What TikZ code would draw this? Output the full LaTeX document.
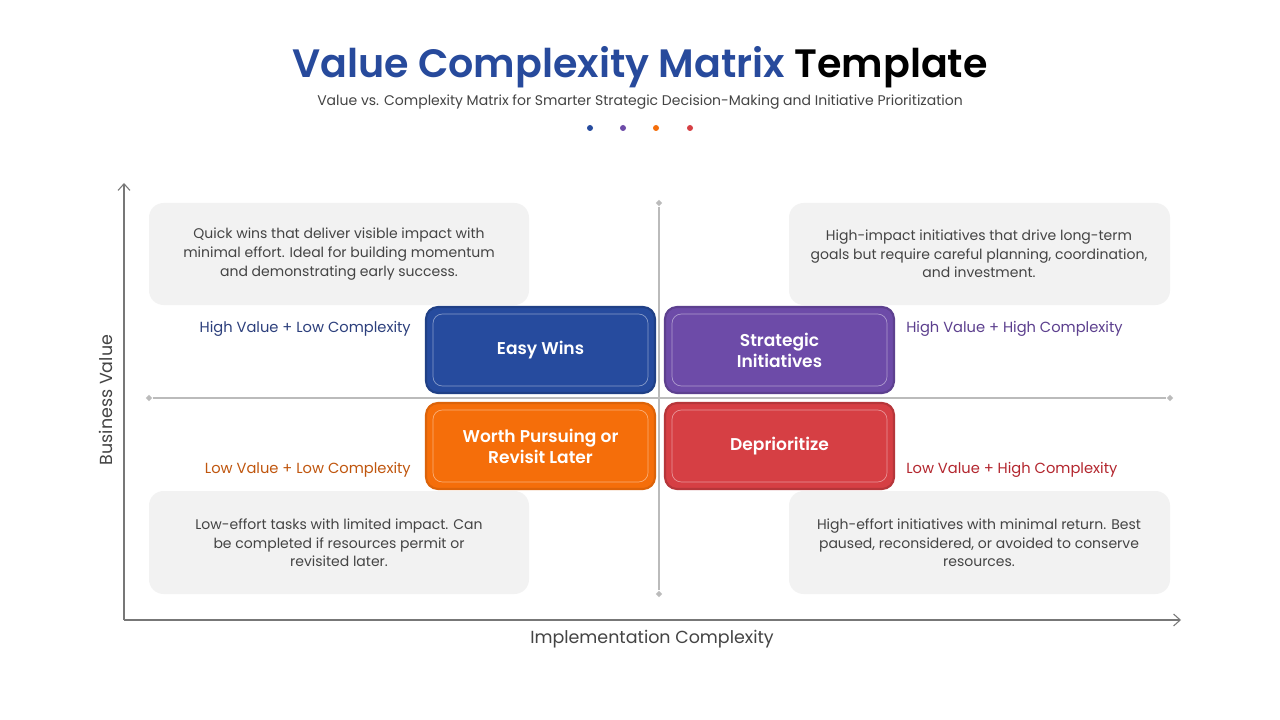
\documentclass[tikz,border=0pt]{standalone}
\usepackage{fontspec}
\setmainfont{Poppins}
\newfontfamily\semi{Poppins SemiBold}
\usetikzlibrary{arrows.meta,shapes.geometric}
\definecolor{tblue}{HTML}{274A9C}
\definecolor{cblue}{HTML}{264B9E}
\definecolor{cpurple}{HTML}{6D4BA8}
\definecolor{corange}{HTML}{F56E0A}
\definecolor{cred}{HTML}{D63F44}
\definecolor{lblue}{HTML}{2C3F7C}
\definecolor{lpurple}{HTML}{5C3F8E}
\definecolor{lorange}{HTML}{C0560E}
\definecolor{lred}{HTML}{B3262E}
\definecolor{txt}{HTML}{444444}
\definecolor{boxgray}{HTML}{F2F2F2}
\definecolor{axisgray}{HTML}{777777}
\definecolor{linegray}{HTML}{BBBBBB}
\tikzset{
  descbox/.style={fill=boxgray,rounded corners=11pt,draw=none},
  desctext/.style={text=txt,font=\fontsize{10.5}{14}\selectfont,align=center},
  quad/.style={rounded corners=9pt,line width=1.6pt},
  quadin/.style={draw=white,draw opacity=0.45,line width=0.5pt,rounded corners=7pt},
  quadtext/.style={text=white,font=\semi\fontsize{12.8}{15.8}\selectfont,align=center},
  tag/.style={font=\fontsize{11}{13}\selectfont,inner xsep=0pt},
  dotm/.style={circle,inner sep=0pt,minimum size=4.5pt},
  endmark/.style={diamond,fill=linegray,inner sep=0pt,minimum size=5pt}
}
\begin{document}
\begin{tikzpicture}[x=0.75pt,y=-0.75pt]
\useasboundingbox (0,0) rectangle (1280,720);
\fill[white] (0,0) rectangle (1280,720);
% title
\node (title) at (640,67) {\semi\fontsize{29.7}{34}\selectfont\textcolor{tblue}{Value Complexity Matrix} Template};
\node[text=txt] (sub) at (640,102.5) {\fontsize{10.5}{12}\selectfont Value vs. Complexity Matrix for Smarter Strategic Decision-Making and Initiative Prioritization};
\node[dotm,fill=cblue] (d1) at (590,128) {};
\node[dotm,fill=cpurple] (d2) at (623,128) {};
\node[dotm,fill=corange] (d3) at (656,128) {};
\node[dotm,fill=cred] (d4) at (690,128) {};
% axes
\coordinate (o) at (124,620);
\coordinate (ytop) at (124,183);
\coordinate (xend) at (1181,620);
\draw[axisgray,line width=0.8pt,-{Straight Barb[length=5pt,width=9pt]}] (o) -- (ytop);
\draw[axisgray,line width=0.8pt,-{Straight Barb[length=5pt,width=9pt]}] (o) -- (xend);
\node[text=txt,font=\fontsize{13.1}{15}\selectfont] (xl) at (652,639.5) {Implementation Complexity};
\node[text=txt,font=\fontsize{13.1}{15}\selectfont,rotate=90] (yl) at (106,400) {Business Value};
% crosshair
\node[endmark] (vt) at (659,203) {};
\node[endmark] (vb) at (659,594) {};
\node[endmark] (hl) at (149,398) {};
\node[endmark] (hr) at (1170,398) {};
\draw[linegray,line width=0.8pt] (vt) -- (vb);
\draw[linegray,line width=0.8pt] (hl) -- (hr);
% description boxes
\fill[descbox] (149,203) rectangle (529,305);
\fill[descbox] (789,203) rectangle (1170,305);
\fill[descbox] (149,491) rectangle (529,594);
\fill[descbox] (789,491) rectangle (1170,594);
\node[desctext] (t1) at (339,254) {Quick wins that deliver visible impact with\\minimal effort. Ideal for building momentum\\and demonstrating early success.};
\node[desctext] (t2) at (979,254) {High-impact initiatives that drive long-term\\goals but require careful planning, coordination,\\and investment.};
\node[desctext] (t3) at (339,543) {Low-effort tasks with limited impact. Can\\be completed if resources permit or\\revisited later.};
\node[desctext] (t4) at (979,543) {High-effort initiatives with minimal return. Best\\paused, reconsidered, or avoided to conserve\\resources.};
% quadrant boxes
\filldraw[quad,fill=cblue,draw=cblue!85!black] (426,307) rectangle (655,393);
\draw[quadin] (433,314) rectangle (648,386);
\node[quadtext] (q1) at (540.5,350.5) {Easy Wins};
\filldraw[quad,fill=cpurple,draw=cpurple!85!black] (665,307) rectangle (894,393);
\draw[quadin] (672,314) rectangle (887,386);
\node[quadtext] (q2) at (779.5,350) {Strategic\\Initiatives};
\filldraw[quad,fill=corange,draw=corange!90!black] (426,403) rectangle (655,489);
\draw[quadin] (433,410) rectangle (648,482);
\node[quadtext] (q3) at (540.5,446) {Worth Pursuing or\\Revisit Later};
\filldraw[quad,fill=cred,draw=cred!85!black] (665,403) rectangle (894,489);
\draw[quadin] (672,410) rectangle (887,482);
\node[quadtext] (q4) at (779.5,446.5) {Deprioritize};
% tags
\node[tag,text=lblue,anchor=east] (g1) at (411,328.5) {High Value + Low Complexity};
\node[tag,text=lpurple,anchor=west] (g2) at (906,328.5) {High Value + High Complexity};
\node[tag,text=lorange,anchor=east] (g3) at (411,469.5) {Low Value + Low Complexity};
\node[tag,text=lred,anchor=west] (g4) at (906,469.5) {Low Value + High Complexity};
\end{tikzpicture}
\end{document}
